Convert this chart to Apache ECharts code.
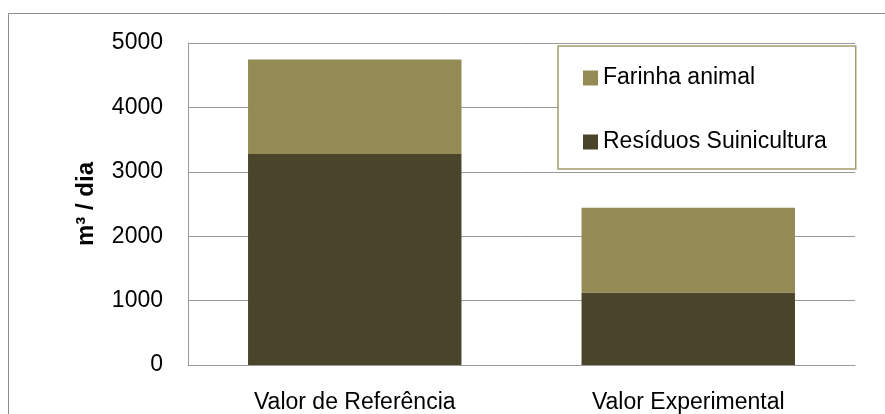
<!DOCTYPE html>
<html>
<head>
<meta charset="utf-8">
<script src="https://cdn.jsdelivr.net/npm/echarts@6/dist/echarts.min.js"></script>
<style>
  html, body { margin: 0; padding: 0; background: #fff; }
  #chart { width: 885px; height: 414px; }
</style>
</head>
<body>
<div id="chart"></div>
<script>
const categories = ['Valor de Referência', 'Valor Experimental']
const residuos = [3275, 1125]
const farinha = [1470, 1315]
const seriesNames = ['Resíduos Suinicultura', 'Farinha animal']
const yTicks = { min: 0, max: 5000, interval: 1000 }

const font = '"Liberation Sans", Arial, sans-serif'
const chart = echarts.init(document.getElementById('chart'))

chart.setOption({
  backgroundColor: '#fff',
  animation: false,
  textStyle: { fontFamily: font },
  graphic: [
    {
      type: 'rect',
      shape: { x: 8.5, y: 13.5, width: 900, height: 420 },
      style: { fill: 'none', stroke: '#8c8c8c', lineWidth: 1 },
      z: -1
    }
  ],
  grid: { left: 188, right: 30, top: 43, bottom: 49 },
  legend: {
    orient: 'vertical',
    left: 558,
    top: 46,
    data: [seriesNames[1], seriesNames[0]],
    icon: 'rect',
    itemWidth: 15,
    itemHeight: 15,
    itemGap: 40,
    padding: [20, 29, 15, 25],
    backgroundColor: '#fff',
    borderColor: '#a39d6e',
    borderWidth: 1.5,
    borderRadius: 0,
    textStyle: { fontSize: 23, color: '#000', fontFamily: font, lineHeight: 24 }
  },
  xAxis: {
    type: 'category',
    data: categories,
    axisTick: { show: false },
    axisLine: { lineStyle: { color: '#9a9a9a', width: 1 } },
    axisLabel: { fontSize: 23, color: '#000', margin: 26, fontFamily: font }
  },
  yAxis: {
    type: 'value',
    min: yTicks.min,
    max: yTicks.max,
    interval: yTicks.interval,
    name: 'm³ / dia',
    nameLocation: 'middle',
    nameGap: 90,
    nameTextStyle: { fontSize: 24, fontWeight: 'bold', color: '#000', fontFamily: font },
    axisLine: { show: true, lineStyle: { color: '#9a9a9a', width: 1 } },
    axisTick: { show: false },
    axisLabel: { fontSize: 23, color: '#000', margin: 25, fontFamily: font, formatter: (v) => String(v) },
    splitLine: { lineStyle: { color: '#9a9a9a', width: 1 } }
  },
  series: [
    {
      name: seriesNames[0],
      type: 'bar',
      stack: 'total',
      data: residuos,
      barCategoryGap: '36%',
      itemStyle: { color: '#4a452a' }
    },
    {
      name: seriesNames[1],
      type: 'bar',
      stack: 'total',
      data: farinha,
      barCategoryGap: '36%',
      itemStyle: { color: '#948a54' }
    }
  ]
})
</script>
</body>
</html>
